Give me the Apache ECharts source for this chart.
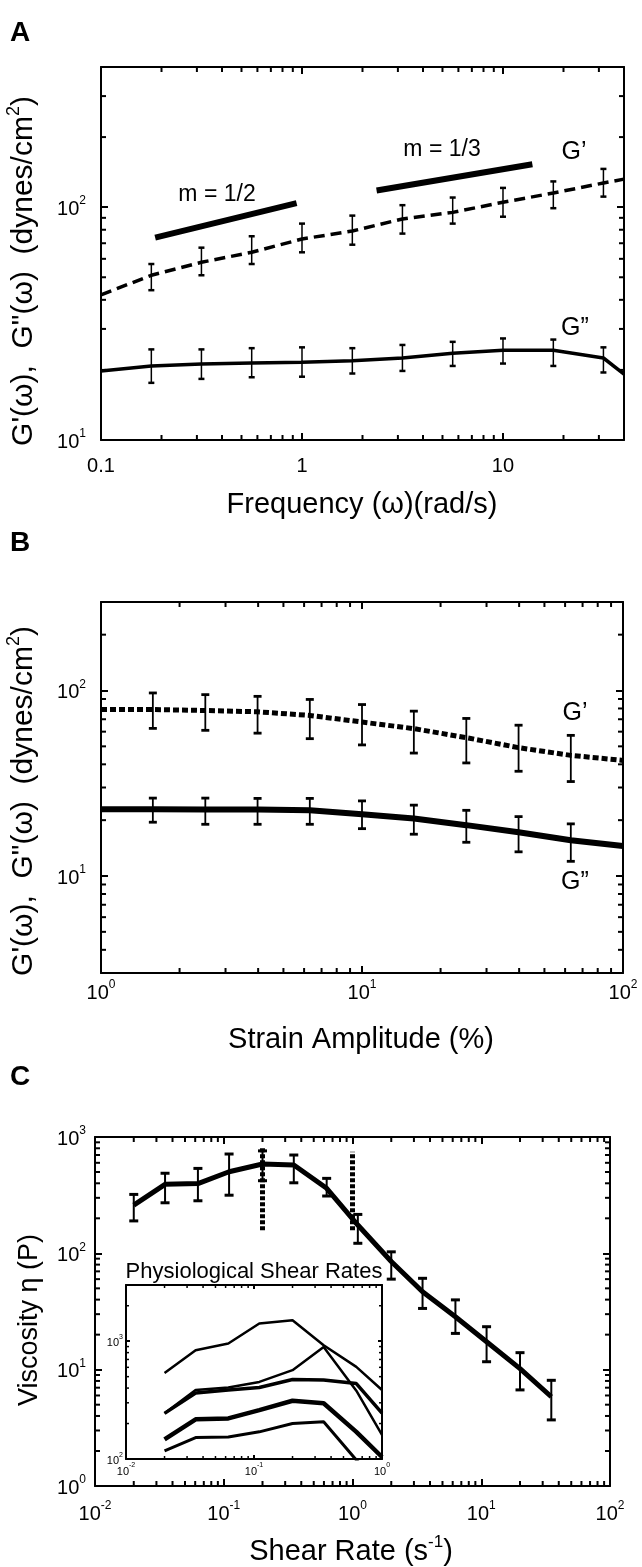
<!DOCTYPE html>
<html>
<head>
<meta charset="utf-8">
<title>Rheology panels</title>
<script src="https://cdn.jsdelivr.net/npm/echarts@6/dist/echarts.min.js"></script>
<style>
    html, body { margin: 0; padding: 0; background: #fff; }
    #chart { width: 642px; height: 1567px; }
</style>
</head>
<body>
<div id="chart"></div>
<script>
// Panel A - frequency sweep
var freqA = [0.178, 0.316, 0.562, 1, 1.78, 3.16, 5.62, 10, 17.8, 31.6];
var gpA = [51, 58, 64, 73, 79, 89, 95, 105, 115, 127];
var gpALow = [44, 51, 57, 64, 69, 77, 85, 91, 99, 111];
var gpAHigh = [57, 67, 75, 85, 92, 102, 110, 121, 129, 146];
var gppA = [20.8, 21.2, 21.4, 21.6, 21.9, 22.5, 23.6, 24.3, 24.3, 22.5];
var gppALow = [17.6, 18.3, 18.6, 18.7, 19.3, 19.8, 20.8, 21.3, 20.8, 19.5];
var gppAHigh = [24.5, 24.5, 24.8, 25, 24.8, 25.6, 26.4, 27.3, 27, 25];
var freqAEnds = [0.1, 40];
var gpAEnds = [42, 132];
var gppAEnds = [19.8, 19.2];
var slopeHalfX = [0.186, 0.94];
var slopeHalfY = [74, 104];
var slopeThirdX = [2.35, 14];
var slopeThirdY = [118, 153];

// Panel B - strain sweep
var strainB = [1.58, 2.51, 3.98, 6.31, 10, 15.8, 25.1, 39.8, 63.1];
var gpB = [79, 78, 76.8, 73.4, 67.6, 62.3, 55.7, 49.2, 44.7];
var gpBLow = [62.5, 61, 58.9, 55, 50.9, 46, 40.7, 36.7, 32.3];
var gpBHigh = [97, 95, 93, 89.5, 84, 77.4, 70.7, 65, 57.3];
var gppB = [22.9, 22.8, 22.8, 22.6, 21.5, 20.4, 18.8, 17.2, 15.6];
var gppBLow = [19.5, 19, 19, 19, 18, 16.8, 15.2, 13.5, 12];
var gppBHigh = [26.3, 26.3, 26.2, 26.2, 25.4, 24.1, 22.6, 20.9, 19.1];
var strainBEnds = [1, 100];
var gpBEnds = [79, 42];
var gppBEnds = [22.9, 14.5];

// Panel C - viscosity vs shear rate
var shearC = [0.02, 0.035, 0.063, 0.11, 0.2, 0.35, 0.63, 1.1, 2, 3.5, 6.3, 11, 20, 35];
var viscC = [260, 392, 398, 503, 586, 575, 362, 175, 85, 46.8, 28.5, 17.4, 10.2, 5.85];
var viscLow = [190, 272, 283, 316, 421, 404, 311, 122, 60, 33.6, 20.5, 11.7, 6.7, 3.7];
var viscHigh = [321, 488, 537, 714, 760, 700, 441, 216, 103, 61, 39.8, 23.4, 14, 8.1];
// physiological shear-rate markers (dashed verticals)
var physioX = [0.2, 1];
var physioLow = [158, 158];
var physioHigh = [800, 745];

// Inset - physiological shear rates
var insetX = [0.02, 0.035, 0.063, 0.11, 0.2, 0.35, 0.63, 1];
var inset1 = [538, 839, 956, 1413, 1507, 925, 605, 385];
var inset2 = [244, 385, 404, 451, 568, 895, 380, 160];
var inset3 = [244, 363, 385, 404, 473, 468, 437, 245];
var inset4 = [147, 217, 221, 260, 312, 297, 170, 104];
var inset5 = [117, 152, 154, 170, 200, 207, 98, 60];

var F = '"Liberation Sans", Arial, sans-serif';

function pairs(xs, ys) {
    return xs.map(function (x, i) { return [x, ys[i]]; });
}
function withEnds(xs, ys, xe, ye) {
    return [[xe[0], ye[0]]].concat(pairs(xs, ys)).concat([[xe[1], ye[1]]]);
}

// superscript tick labels, only on whole decades
function supLabel(v) {
    var l = Math.log10(v), e = Math.round(l);
    if (Math.abs(l - e) > 1e-6) return '';
    return '{b|10}{s|' + e + '}';
}
function plainLabel(v) {
    var l = Math.log10(v), e = Math.round(l);
    if (Math.abs(l - e) > 1e-6) return '';
    return e < 0 ? '0.1' : String(Math.pow(10, e));
}
function richSup(size) {
    return {
        b: { fontSize: size, fontFamily: F, color: '#000', lineHeight: size + 4, verticalAlign: 'bottom' },
        s: { fontSize: Math.round(size * 0.62), fontFamily: F, color: '#000', lineHeight: size + 4, verticalAlign: 'top' }
    };
}

function makeAxis(grid, pos, min, max, tickLen, label) {
    return {
        type: 'log', logBase: 10, gridIndex: grid, position: pos, min: min, max: max,
        axisLine: { show: true, onZero: false, lineStyle: { color: '#000', width: 2 } },
        axisTick: { show: true, inside: true, length: tickLen, lineStyle: { color: '#000', width: 2 } },
        axisLabel: label || { show: false },
        splitLine: { show: false }
    };
}

function minorValues(min, max) {
    var out = [];
    for (var e = Math.floor(Math.log10(min)); e <= Math.ceil(Math.log10(max)); e++) {
        for (var m = 2; m <= 9; m++) {
            var v = m * Math.pow(10, e);
            if (v > min * 1.0001 && v < max * 0.9999) out.push(v);
        }
    }
    return out;
}

// minor ticks on all four sides, drawn through the axes' own scales
function minorTicks(grid, xr, yr, len, lw) {
    var data = [];
    minorValues(xr[0], xr[1]).forEach(function (v) { data.push([v, yr[0], 0]); });
    minorValues(yr[0], yr[1]).forEach(function (v) { data.push([xr[0], v, 1]); });
    return {
        type: 'custom', xAxisIndex: grid * 2, yAxisIndex: grid * 2, silent: true, z: 6,
        encode: { x: 0, y: 1 },
        data: data,
        renderItem: function (params, api) {
            var cs = params.coordSys;
            var p = api.coord([api.value(0), api.value(1)]);
            var st = { stroke: '#000', lineWidth: lw };
            if (api.value(2) === 0) {
                return { type: 'group', children: [
                    { type: 'line', shape: { x1: p[0], y1: cs.y + cs.height, x2: p[0], y2: cs.y + cs.height - len }, style: st },
                    { type: 'line', shape: { x1: p[0], y1: cs.y, x2: p[0], y2: cs.y + len }, style: st }
                ] };
            }
            return { type: 'group', children: [
                { type: 'line', shape: { x1: cs.x, y1: p[1], x2: cs.x + len, y2: p[1] }, style: st },
                { type: 'line', shape: { x1: cs.x + cs.width, y1: p[1], x2: cs.x + cs.width - len, y2: p[1] }, style: st }
            ] };
        }
    };
}

function errorBars(grid, xs, lows, highs, lw, cap) {
    return {
        type: 'custom', xAxisIndex: grid * 2, yAxisIndex: grid * 2, silent: true, z: 4,
        encode: { x: 0, y: [1, 2] },
        data: xs.map(function (x, i) { return [x, lows[i], highs[i]]; }),
        renderItem: function (params, api) {
            var lo = api.coord([api.value(0), api.value(1)]);
            var hi = api.coord([api.value(0), api.value(2)]);
            var st = { stroke: '#000', lineWidth: lw };
            var cst = { stroke: '#000', lineWidth: lw + 1 };
            return { type: 'group', children: [
                { type: 'line', shape: { x1: lo[0], y1: lo[1], x2: hi[0], y2: hi[1] }, style: st },
                { type: 'line', shape: { x1: lo[0] - cap, y1: lo[1], x2: lo[0] + cap, y2: lo[1] }, style: cst },
                { type: 'line', shape: { x1: hi[0] - cap, y1: hi[1], x2: hi[0] + cap, y2: hi[1] }, style: cst }
            ] };
        }
    };
}

function line(grid, data, width, dash) {
    return {
        type: 'line', xAxisIndex: grid * 2, yAxisIndex: grid * 2, data: data,
        symbol: 'none', showSymbol: false, silent: true, z: 3, clip: true,
        lineStyle: { color: '#000', width: width, type: dash || 'solid', cap: 'butt' }
    };
}

function txt(s, x, y, size, opt) {
    opt = opt || {};
    return {
        type: 'text', x: x, y: y, rotation: opt.rot || 0, silent: true, z: 10,
        style: {
            text: s, fontFamily: F, fontSize: size, fontWeight: opt.weight || 'normal', fill: '#000',
            align: opt.align || 'center', verticalAlign: opt.valign || 'middle', rich: opt.rich
        }
    };
}

var ranges = [
    { x: [0.1, 40], y: [10, 400] },
    { x: [1, 100], y: [3, 300] },
    { x: [0.01, 100], y: [1, 1000] },
    { x: [0.01, 1], y: [100, 3000] }
];
var grids = [
    { left: 101, top: 67, width: 523, height: 373 },
    { left: 101, top: 602, width: 522, height: 371 },
    { left: 95, top: 1137, width: 515, height: 349 },
    { left: 126, top: 1285, width: 256, height: 174 }
];
var xLabelMargin = [16, 6, 14];

var xAxes = [], yAxes = [];
ranges.forEach(function (r, g) {
    var inset = g === 3;
    var big = inset ? 4 : 7;
    var xLab, yLab;
    if (inset) {
        xLab = { show: true, margin: 3, formatter: supLabel, rich: richSup(11) };
        yLab = { show: true, margin: 3, formatter: supLabel, rich: richSup(11) };
    } else if (g === 0) {
        xLab = { show: true, margin: xLabelMargin[g], formatter: plainLabel, fontSize: 20, fontFamily: F, color: '#000' };
        yLab = { show: true, margin: 15, formatter: supLabel, rich: richSup(20) };
    } else {
        xLab = { show: true, margin: xLabelMargin[g], formatter: supLabel, rich: richSup(20) };
        yLab = { show: true, margin: g === 2 ? 9 : 15, formatter: supLabel, rich: richSup(20) };
    }
    xAxes.push(makeAxis(g, 'bottom', r.x[0], r.x[1], big, xLab));
    xAxes.push(makeAxis(g, 'top', r.x[0], r.x[1], big));
    yAxes.push(makeAxis(g, 'left', r.y[0], r.y[1], big, yLab));
    yAxes.push(makeAxis(g, 'right', r.y[0], r.y[1], big));
});

var series = [];
ranges.forEach(function (r, g) {
    series.push(minorTicks(g, r.x, r.y, g === 3 ? 3 : 5, g === 3 ? 1.5 : 2));
});

// Add series - panel A
series.push(line(0, withEnds(freqA, gpA, freqAEnds, gpAEnds), 3.5, [11, 6]));
series.push(line(0, withEnds(freqA, gppA, freqAEnds, gppAEnds), 3.5));
series.push(line(0, pairs(slopeHalfX, slopeHalfY), 6));
series.push(line(0, pairs(slopeThirdX, slopeThirdY), 6));
series.push(errorBars(0, freqA, gpALow, gpAHigh, 1.5, 3));
series.push(errorBars(0, freqA, gppALow, gppAHigh, 1.5, 3));

// panel B
series.push(line(1, withEnds(strainB, gpB, strainBEnds, gpBEnds), 5, [6, 3]));
series.push(line(1, withEnds(strainB, gppB, strainBEnds, gppBEnds), 6));
series.push(errorBars(1, strainB, gpBLow, gpBHigh, 1.8, 4));
series.push(errorBars(1, strainB, gppBLow, gppBHigh, 1.8, 4));

// panel C
series.push(line(2, pairs(shearC, viscC), 5));
series.push(errorBars(2, shearC, viscLow, viscHigh, 2, 4.5));
physioX.forEach(function (x, i) {
    series.push(line(2, [[x, physioLow[i]], [x, physioHigh[i]]], 5, [4, 2]));
});

// inset
series.push(line(3, pairs(insetX, inset1), 2.5));
series.push(line(3, pairs(insetX, inset2), 2.5));
series.push(line(3, pairs(insetX, inset3), 3.5));
series.push(line(3, pairs(insetX, inset4), 4.5));
series.push(line(3, pairs(insetX, inset5), 3));

var supRich = {
    s: { fontFamily: F, fontSize: 18, verticalAlign: 'top', lineHeight: 34, fill: '#000' },
    n: { fontFamily: F, fontSize: 30, verticalAlign: 'bottom', lineHeight: 34, fill: '#000' }
};
var supRichC = {
    s: { fontFamily: F, fontSize: 17, verticalAlign: 'top', lineHeight: 32, fill: '#000' },
    n: { fontFamily: F, fontSize: 29, verticalAlign: 'bottom', lineHeight: 32, fill: '#000' }
};
var yTitle = '{n|G\'(\u03c9),  G"(\u03c9)  (dynes/cm}{s|2}{n|)}';

var graphics = [
    txt('A', 10, 33, 28, { weight: 'bold', align: 'left' }),
    txt('m = 1/2', 217, 195, 23),
    txt('m = 1/3', 442, 150, 23),
    txt('G\u2019', 574, 152, 25),
    txt('G\u201d', 575, 328, 25),
    txt('Frequency (\u03c9)(rad/s)', 362, 505, 29),
    txt(yTitle, 22, 271, 30, { rot: Math.PI / 2, rich: supRich }),

    txt('B', 10, 543, 28, { weight: 'bold', align: 'left' }),
    txt('G\u2019', 575, 713, 25),
    txt('G\u201d', 575, 882, 25),
    txt('Strain Amplitude (%)', 361, 1040, 29),
    txt(yTitle, 22, 801, 30, { rot: Math.PI / 2, rich: supRich }),

    txt('C', 10, 1077, 28, { weight: 'bold', align: 'left' }),
    txt('{n|Shear Rate (s}{s|-1}{n|)}', 351, 1550, 29, { rich: supRichC }),
    txt('Viscosity \u03b7 (P)', 30, 1320, 27, { rot: Math.PI / 2 }),
    txt('Physiological Shear Rates', 254, 1272, 22)
];

var chart = echarts.init(document.getElementById('chart'));
chart.setOption({
    animation: false,
    backgroundColor: '#fff',
    grid: grids,
    xAxis: xAxes,
    yAxis: yAxes,
    graphic: graphics,
    series: series
});
</script>
</body>
</html>
